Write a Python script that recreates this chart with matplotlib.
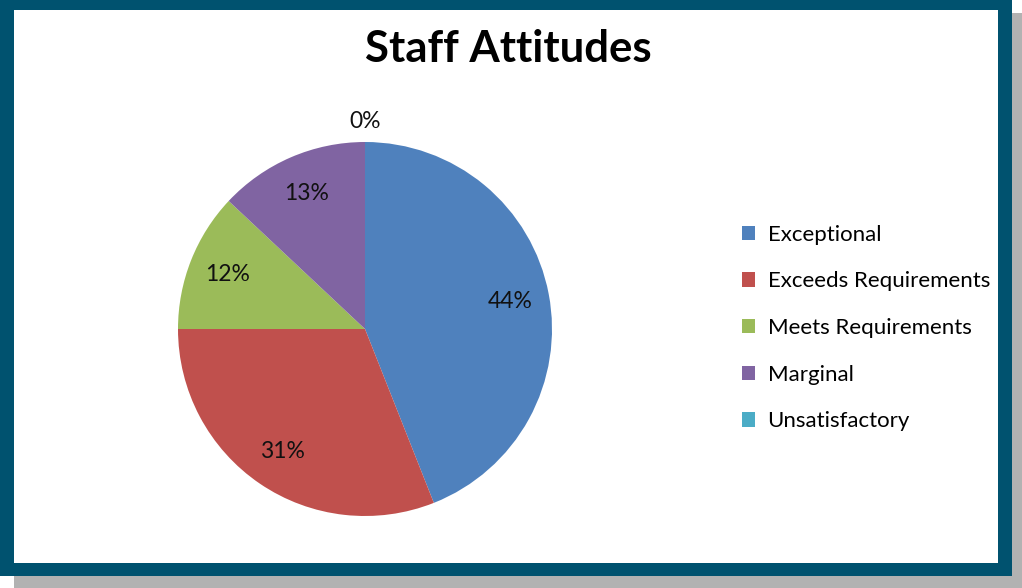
import matplotlib
matplotlib.use("Agg")
import matplotlib.pyplot as plt
import numpy as np
from matplotlib.patches import Rectangle, Patch

categories = ["Exceptional", "Exceeds Requirements", "Meets Requirements",
              "Marginal", "Unsatisfactory"]
values = [44, 31, 12, 13, 0]
colors = ["#4F81BD", "#C0504D", "#9BBB59", "#8064A2", "#4BACC6"]
title = "Staff Attitudes"

W, H = 1022, 588
plt.rcParams['font.family'] = ['Lato', 'DejaVu Sans']

fig = plt.figure(figsize=(W / 100, H / 100), dpi=100)


def px_rect(x0, y0, x1, y1, color):
    # pixel box (top-left origin) -> figure fraction rectangle
    fig.patches.append(Rectangle((x0 / W, 1 - y1 / H), (x1 - x0) / W, (y1 - y0) / H,
                                 transform=fig.transFigure, facecolor=color,
                                 edgecolor='none', zorder=-10))


# frame: grey drop shadow, teal border, white plot area
px_rect(14, 13, W, H, "#B2B2B2")
px_rect(0, 0, 1012, 576, "#00526F")
px_rect(14, 10, 998, 563, "white")

# pie axes: centre (365, 329), radius 187 px
cx, cy, r = 365, 329, 187
ax = fig.add_axes([(cx - r) / W, 1 - (cy + r) / H, 2 * r / W, 2 * r / H])
wedges, texts, autotexts = ax.pie(
    values, colors=colors, startangle=90, counterclock=False,
    autopct='%1.0f%%', pctdistance=0.79, radius=1,
    wedgeprops=dict(linewidth=0),
    textprops=dict(fontsize=16.5, color='#111111'))
ax.set_xlim(-1, 1)
ax.set_ylim(-1, 1)
ax.set_aspect('equal')
ax.axis('off')

# zero-size slice: label sits just outside the rim
for w, t, v in zip(wedges, autotexts, values):
    if v == 0:
        ang = np.deg2rad(w.theta1)
        t.set_position((1.11 * np.cos(ang), 1.11 * np.sin(ang)))

fig.text(508 / W, 1 - 49 / H, title, ha='center', va='center',
         fontsize=31.5, fontweight='bold', color='black')

handles = [Patch(facecolor=c, edgecolor='none') for c in colors]
fig.legend(handles, categories, loc='center left',
           bbox_to_anchor=(722 / W, 1 - 328 / H), frameon=False,
           fontsize=16, handlelength=0.6, handleheight=0.6,
           handletextpad=0.55, labelspacing=1.2)

fig.savefig("out.png", dpi=100)
